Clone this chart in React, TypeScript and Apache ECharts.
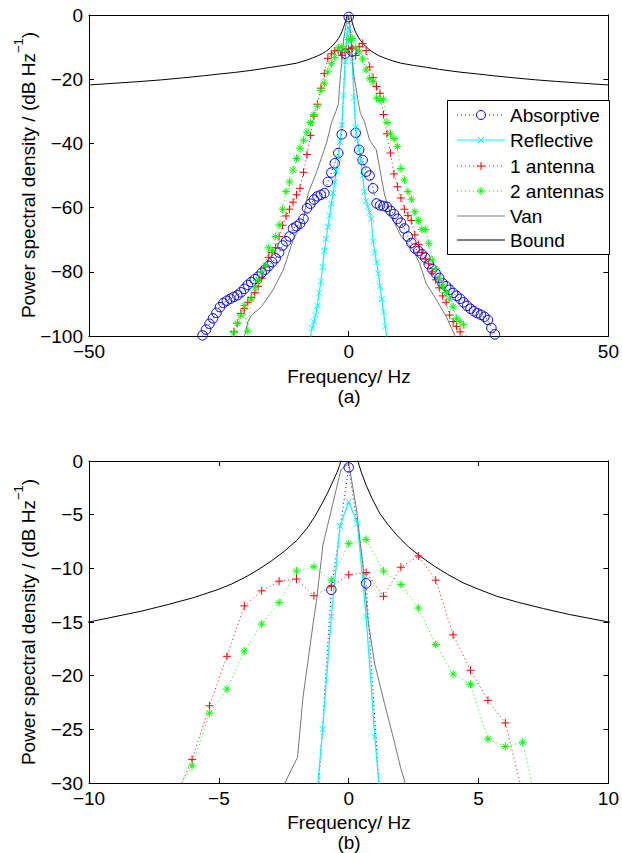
import React, { useEffect, useRef } from "react";
import * as echarts from "echarts";

// ---------- data ----------
const FREQ_STEP = 0.67; // Hz, grid of Absorptive / antenna spectra (centred on 0)
const REFL_STEP = 0.335; // Hz, grid of Reflective spectrum (centred on 0)

// k = -42 .. 42
const absorptiveDb = [
  -99.8, -98, -96.2, -94.5, -92.8, -91, -89.7, -89, -88.4, -87.8, -87.3, -86.4, -85.3, -84.1,
  -83.2, -82.3, -81.5, -80.3, -79.3, -78.2, -77, -75.8, -74, -71.8, -70.5, -69, -66.5, -65.8,
  -65, -63.5, -60.2, -58.8, -57.5, -56.5, -56, -55.5, -52, -49.1, -46.2, -43, -37.2, -12,
  -0.6,
  -11.4, -36.7, -42, -45.2, -48.8, -50, -54, -58.7, -59.3, -59.5, -59.8, -61, -62, -63.5,
  -64.7, -66.5, -69, -71, -72.7, -73.5, -74.5, -75.6, -77.6, -79.2, -80.5, -81.9, -83.6, -84.5,
  -85.6, -86.6, -87.5, -88.4, -89.5, -90.6, -91.5, -92.3, -92.9, -93.4, -94, -95, -97.5, -99.5,
];

// k = -23 .. 23
const reflectiveDb = [
  -103, -100.5, -97.5, -95.5, -93.5, -90.5, -86.5, -83, -78.5, -73.5, -69.8, -66, -62.5, -58.8,
  -55.5, -52, -48.5, -44.5, -39.5, -34.3, -25, -14.5, -6.05,
  -3.8,
  -5.8, -14.5, -25.7, -35, -38.5, -42, -45.5, -50, -55, -58, -59.7, -61.5, -63.5, -70.5,
  -74, -77, -80.5, -84.5, -88.5, -92.5, -97, -101, -104,
];

// k = -34 .. 34
const oneAntennaDb = [
  -101.5, -98.7, -96, -93, -91.5, -89.5, -88, -86.5, -84.5, -82, -78.5, -75.5, -74, -72.5,
  -69, -65.5, -62.6, -60.5, -58.3, -56, -54, -49, -43.5, -37.5, -31.5, -27.8, -22.8, -18.2,
  -13.5, -12.1, -11.2, -11.0, -12.55, -11.7,
  -10.6,
  -10.4, -12.6, -9.9, -8.85, -11.1, -16.2, -19.5, -22.3, -24.4, -31, -37, -43, -49.5, -53.5,
  -57, -60.5, -62.5, -64, -68.5, -71.5, -74, -76, -77.5, -80, -82.5, -85, -87.5, -89.5,
  -93.5, -95.5, -97, -98.7, -100.5, -102,
];

// k = -34 .. 34
const twoAntennasDb = [
  -102, -99, -96, -93.5, -90.5, -98.5, -88.5, -85, -82.6, -80, -78, -72.5, -73.5, -69,
  -65.4, -60.5, -55, -52, -48.3, -44.7, -41.5, -39, -36.5, -33.5, -31, -28.4, -23.5, -21.25,
  -17.7, -15.2, -13.2, -10.25, -9.85, -11.1,
  -7.7,
  -7.3, -10.25, -11.5, -13.7, -17.1, -19.85, -20.8, -25.9, -26.6, -26.2, -33.5, -37, -38.5,
  -41, -47.8, -51.4, -55, -57.4, -61.3, -64, -66.8, -66.8, -71.1, -76.3, -79, -82, -84.5,
  -86.5, -88.5, -90.9, -94.5, -95.5, -96.5, -101,
];

// [frequency Hz, dB]
const vanPoints: [number, number][] = [
  [-20.4, -101], [-20.0, -99.7], [-19.4, -95.5], [-18.7, -93.5], [-16.8, -90.9], [-14.6, -85.7],
  [-12.6, -79.4], [-10.7, -70.1], [-8.8, -63.9], [-7.8, -55.5], [-6.2, -49], [-4.3, -40],
  [-3.3, -33.5], [-2.46, -30], [-1.97, -27.6], [-1.76, -22], [-1.35, -14.8], [-1.24, -13],
  [-0.99, -7.8], [-0.3, -0.8], [0, -0.2], [0.3, -4.5], [0.55, -9.85], [0.74, -14.8], [1.0, -18.9],
  [1.38, -22.6], [1.77, -26.3], [2.0, -28.6], [2.24, -30.5], [3.1, -33.5], [4.0, -38.9],
  [5.3, -42], [6.0, -48], [6.9, -56], [8.2, -62.8], [10.1, -69], [12.4, -73.2], [13.65, -77.4],
  [14.9, -83.6], [16.9, -88.8], [18.8, -94], [20.4, -99.7], [20.6, -101],
];

const boundPoints: [number, number | string][] = [
  [-50, -21.8], [-45, -21.25], [-40, -20.7], [-36, -20.2], [-32, -19.6], [-28, -18.95],
  [-25, -18.4], [-22, -17.9], [-20, -17.5], [-17.5, -16.95], [-15, -16.3], [-12.5, -15.7],
  [-10, -15.0], [-9, -14.5], [-8, -14.0], [-7, -13.4], [-6, -12.75], [-5, -11.95], [-4.5, -11.45],
  [-4, -10.85], [-3.5, -10.15], [-3, -9.35], [-2.5, -8.45], [-2, -7.4], [-1.6, -6.25],
  [-1.3, -5.15], [-1.0, -3.85], [-0.8, -2.9], [-0.6, -1.85], [-0.45, -1.05], [-0.35, -0.4],
  [-0.28, 0.2],
  [0, "-"],
  [0.33, 0.2], [0.4, -0.4], [0.5, -1.15], [0.68, -2.3], [0.9, -3.5], [1.2, -4.9], [1.5, -5.9],
  [1.85, -6.9], [2.3, -8.0], [2.8, -8.95], [3.3, -9.8], [3.8, -10.55], [4.4, -11.35], [5, -11.95],
  [5.7, -12.6], [6.5, -13.15], [7.5, -13.75], [8.5, -14.3], [10, -15.0], [12.5, -15.7],
  [15, -16.3], [17.5, -16.95], [20, -17.5], [22, -17.9], [25, -18.4], [28, -18.95], [32, -19.6],
  [36, -20.2], [40, -20.7], [45, -21.25], [50, -21.8],
];

const seriesNames = ["Absorptive", "Reflective", "1 antenna", "2 antennas", "Van", "Bound"];
const xTicksTop = { min: -50, max: 50, interval: 50 };
const yTicksTop = { min: -100, max: 0, interval: 20 };
const xTicksBottom = { min: -10, max: 10, interval: 5 };
const yTicksBottom = { min: -30, max: 0, interval: 5 };
const yLabelText = "Power spectral density / (dB Hz";
const xLabelText = "Frequency/ Hz";

// ---------- styling ----------
const FONT = '"Liberation Sans", Arial, Helvetica, sans-serif';
const FS = 19;
const BLUE = "#0000ff";
const CYAN = "#00ffff";
const RED = "#ff0000";
const GREEN = "#00ff00";
const GRAY = "#777777";
const BLACK = "#000000";

const PLUS = "path://M5,0L5,10M0,5L10,5";
const CROSS = "path://M0,0L10,10M10,0L0,10";
const STAR = "path://M5,0L5,10M0,5L10,5M1.6,1.6L8.4,8.4M8.4,1.6L1.6,8.4";

const onGrid = (ys: number[], step: number) => {
  const half = (ys.length - 1) / 2;
  return ys.map((y, i) => [Number(((i - half) * step).toFixed(4)), y]);
};

const fmt = (v: number) => (v < 0 ? "\u2212" + Math.abs(v) : String(v));

function makeSeries(g: number) {
  const ax = { xAxisIndex: g * 2, yAxisIndex: g * 2, clip: true, silent: true, animation: false };
  const hollow = (c: string) => ({ color: "rgba(0,0,0,0)", borderColor: c, borderWidth: 1 });
  return [
    {
      ...ax, name: seriesNames[0], type: "line", data: onGrid(absorptiveDb, FREQ_STEP),
      symbol: "circle", symbolSize: 9.5, itemStyle: hollow(BLUE),
      lineStyle: { color: BLUE, width: 1, type: [1, 3] },
    },
    {
      ...ax, name: seriesNames[1], type: "line", data: onGrid(reflectiveDb, REFL_STEP),
      symbol: CROSS, symbolSize: 6, itemStyle: hollow(CYAN),
      lineStyle: { color: CYAN, width: 1.2 },
    },
    {
      ...ax, name: seriesNames[2], type: "line", data: onGrid(oneAntennaDb, FREQ_STEP),
      symbol: PLUS, symbolSize: 8, itemStyle: hollow(RED),
      lineStyle: { color: RED, width: 1, type: [1, 3] },
    },
    {
      ...ax, name: seriesNames[3], type: "line", data: onGrid(twoAntennasDb, FREQ_STEP),
      symbol: STAR, symbolSize: 8, itemStyle: hollow(GREEN),
      lineStyle: { color: GREEN, width: 1, type: [1, 3] },
    },
    {
      ...ax, name: seriesNames[4], type: "line", data: vanPoints, showSymbol: false, symbol: "none",
      lineStyle: { color: GRAY, width: 1 },
    },
    {
      ...ax, name: seriesNames[5], type: "line", data: boundPoints, showSymbol: false, symbol: "none",
      connectNulls: false, lineStyle: { color: BLACK, width: 1 },
    },
  ];
}

const axisBase = (labels: boolean) => ({
  type: "value",
  axisLine: { show: true, onZero: false, lineStyle: { color: BLACK, width: 1 } },
  axisTick: { show: true, inside: true, length: 5, lineStyle: { color: BLACK, width: 1 } },
  splitLine: { show: false },
  axisLabel: labels
    ? { show: true, color: BLACK, fontSize: FS, fontFamily: FONT, formatter: fmt, margin: 6 }
    : { show: false },
});

function legendGraphic() {
  const x0 = 447, y0 = 100, w = 162, h = 154;
  const rows = [115, 140, 166, 191, 216, 240];
  const lx1 = 457, lx2 = 505, mx = 481, tx = 510;
  const els: any[] = [
    { type: "rect", shape: { x: x0 + 0.5, y: y0 + 0.5, width: w, height: h }, style: { fill: "#fff", stroke: BLACK, lineWidth: 1 }, z: 100 },
  ];
  const line = (y: number, color: string, dash: any, width = 1) => ({
    type: "line", shape: { x1: lx1, y1: y, x2: lx2, y2: y },
    style: { stroke: color, lineWidth: width, lineDash: dash }, z: 101,
  });
  const seg = (x1: number, y1: number, x2: number, y2: number, color: string) => ({
    type: "line", shape: { x1, y1, x2, y2 }, style: { stroke: color, lineWidth: 1 }, z: 102,
  });
  const colors = [BLUE, CYAN, RED, GREEN, GRAY, BLACK];
  rows.forEach((y, i) => {
    const c = colors[i];
    const dotted = i === 0 || i === 2 || i === 3;
    els.push(line(y, c, dotted ? [1, 3] : null, i === 1 ? 1.2 : 1));
    if (i === 0) {
      els.push({ type: "circle", shape: { cx: mx, cy: y, r: 4.5 }, style: { fill: "#fff", stroke: BLUE, lineWidth: 1 }, z: 102 });
    } else if (i === 1) {
      els.push(seg(mx - 3, y - 3, mx + 3, y + 3, c), seg(mx + 3, y - 3, mx - 3, y + 3, c));
    } else if (i === 2) {
      els.push(seg(mx, y - 4, mx, y + 4, c), seg(mx - 4, y, mx + 4, y, c));
    } else if (i === 3) {
      els.push(
        seg(mx, y - 4, mx, y + 4, c), seg(mx - 4, y, mx + 4, y, c),
        seg(mx - 2.8, y - 2.8, mx + 2.8, y + 2.8, c), seg(mx + 2.8, y - 2.8, mx - 2.8, y + 2.8, c)
      );
    }
    els.push({
      type: "text", x: tx, y, z: 103,
      style: { text: seriesNames[i], fontSize: FS, fontFamily: FONT, fill: BLACK, align: "left", verticalAlign: "middle" },
    });
  });
  return els;
}

function titleGraphic() {
  const els: any[] = [];
  const txt = (x: number, y: number, text: string) => ({
    type: "text", x, y, z: 50,
    style: { text, fontSize: FS, fontFamily: FONT, fill: BLACK, align: "center", verticalAlign: "middle" },
  });
  const ylab = (y: number) => ({
    type: "text", x: 25, y, rotation: Math.PI / 2, z: 50,
    style: {
      text: "{a|" + yLabelText + "}{s|\u22121}{a|)}",
      align: "center", verticalAlign: "middle",
      rich: {
        a: { fontSize: FS, fontFamily: FONT, fill: BLACK, verticalAlign: "bottom", lineHeight: 26 },
        s: { fontSize: 13, fontFamily: FONT, fill: BLACK, verticalAlign: "top", lineHeight: 26 },
      },
    },
  });
  els.push(ylab(175), ylab(622));
  els.push(txt(349, 376.5, xLabelText), txt(349, 396, "(a)"));
  els.push(txt(349, 822.5, xLabelText), txt(349, 842, "(b)"));
  return els;
}

export default function App() {
  const ref = useRef<HTMLDivElement>(null);
  useEffect(() => {
    if (!ref.current) return;
    const chart = echarts.init(ref.current, null, { renderer: "svg" });
    const option: any = {
      animation: false,
      backgroundColor: "#ffffff",
      textStyle: { fontFamily: FONT },
      grid: [
        { left: 89, top: 15, width: 521, height: 321, containLabel: false },
        { left: 89, top: 461, width: 521, height: 322, containLabel: false },
      ],
      xAxis: [
        { ...axisBase(true), gridIndex: 0, position: "bottom", ...xTicksTop },
        { ...axisBase(false), gridIndex: 0, position: "top", ...xTicksTop },
        { ...axisBase(true), gridIndex: 1, position: "bottom", ...xTicksBottom },
        { ...axisBase(false), gridIndex: 1, position: "top", ...xTicksBottom },
      ],
      yAxis: [
        { ...axisBase(true), gridIndex: 0, position: "left", ...yTicksTop },
        { ...axisBase(false), gridIndex: 0, position: "right", ...yTicksTop },
        { ...axisBase(true), gridIndex: 1, position: "left", ...yTicksBottom },
        { ...axisBase(false), gridIndex: 1, position: "right", ...yTicksBottom },
      ],
      series: [...makeSeries(0), ...makeSeries(1)],
      graphic: [...titleGraphic(), ...legendGraphic()],
    };
    chart.setOption(option);
    return () => chart.dispose();
  }, []);
  return (
    <div
      ref={ref}
      style={{ position: "fixed", left: 0, top: 0, width: 622, height: 853, background: "#fff" }}
    />
  );
}
